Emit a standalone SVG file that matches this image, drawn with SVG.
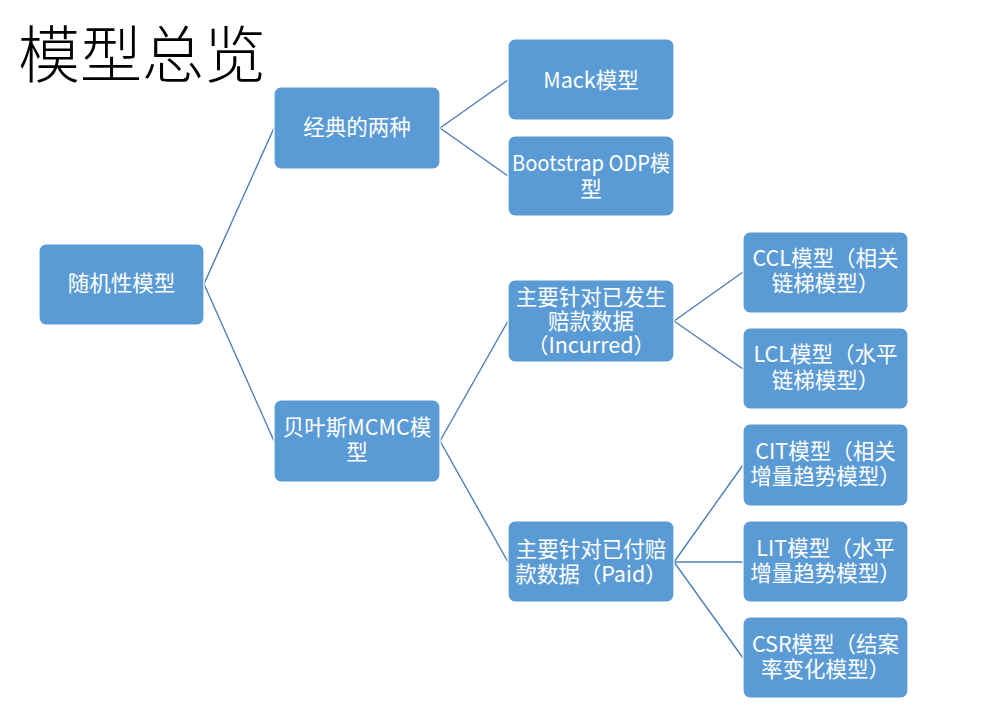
<svg xmlns="http://www.w3.org/2000/svg" width="989" height="706" viewBox="0 0 989 706">
<style>
.box{fill:#5B9BD5;stroke:#ffffff;stroke-width:1.2}
.lbl{fill:#ffffff;font-family:"Noto Sans CJK SC","Noto Sans",sans-serif;font-size:21.5px;text-anchor:middle;dominant-baseline:central}
.title{fill:#000000;font-family:"Liberation Serif","Noto Sans CJK SC",serif;font-size:62px;font-weight:300}
.conn line{stroke:#4A7EBB;stroke-width:1.4;fill:none}
</style>
<rect width="989" height="706" fill="#ffffff"/>
<text class="title" x="18" y="78">模型总览</text>
<g id="connectors" class="conn">
<line x1="204" y1="284" x2="274" y2="128"/>
<line x1="204" y1="284" x2="274" y2="441"/>
<line x1="440" y1="128" x2="508" y2="80"/>
<line x1="440" y1="128" x2="508" y2="176"/>
<line x1="440" y1="441" x2="508" y2="321"/>
<line x1="440" y1="441" x2="508" y2="562"/>
<line x1="674" y1="321" x2="743" y2="272"/>
<line x1="674" y1="321" x2="743" y2="369"/>
<line x1="674" y1="562" x2="743" y2="465"/>
<line x1="674" y1="562" x2="743" y2="562"/>
<line x1="674" y1="562" x2="743" y2="658"/>
</g>
<g id="n-root"><rect class="box" x="39" y="244" width="165" height="81" rx="7"/><text class="lbl" x="121.5" y="281">随机性模型</text></g>
<g id="n-classic"><rect class="box" x="274" y="87" width="166" height="82" rx="7"/><text class="lbl" x="357" y="125">经典的两种</text></g>
<g id="n-bayes"><rect class="box" x="274" y="400" width="166" height="82" rx="7"/><text class="lbl" x="357" y="425">贝叶斯MCMC模</text><text class="lbl" x="357" y="450">型</text></g>
<g id="n-mack"><rect class="box" x="508" y="39" width="166" height="81" rx="7"/><text class="lbl" x="591" y="78">Mack模型</text></g>
<g id="n-boot"><rect class="box" x="508" y="136" width="166" height="80" rx="7"/><text class="lbl" x="591" y="161" textLength="158" lengthAdjust="spacingAndGlyphs">Bootstrap ODP模</text><text class="lbl" x="591" y="187">型</text></g>
<g id="n-incurred"><rect class="box" x="508" y="280" width="166" height="82" rx="7"/><text class="lbl" x="591" y="295">主要针对已发生</text><text class="lbl" x="591" y="319">赔款数据</text><text class="lbl" x="591" y="343">（Incurred）</text></g>
<g id="n-paid"><rect class="box" x="508" y="521" width="166" height="81" rx="7"/><text class="lbl" x="591" y="547">主要针对已付赔</text><text class="lbl" x="591" y="572">款数据（Paid）</text></g>
<g id="n-ccl"><rect class="box" x="743" y="232" width="165" height="81" rx="7"/><text class="lbl" x="825.5" y="256">CCL模型（相关</text><text class="lbl" x="825.5" y="281">链梯模型）</text></g>
<g id="n-lcl"><rect class="box" x="743" y="328" width="165" height="81" rx="7"/><text class="lbl" x="825.5" y="352">LCL模型（水平</text><text class="lbl" x="825.5" y="378">链梯模型）</text></g>
<g id="n-cit"><rect class="box" x="743" y="424" width="165" height="82" rx="7"/><text class="lbl" x="825.5" y="449">CIT模型（相关</text><text class="lbl" x="825.5" y="474">增量趋势模型）</text></g>
<g id="n-lit"><rect class="box" x="743" y="521" width="165" height="81" rx="7"/><text class="lbl" x="825.5" y="546">LIT模型（水平</text><text class="lbl" x="825.5" y="571">增量趋势模型）</text></g>
<g id="n-csr"><rect class="box" x="743" y="617" width="165" height="81" rx="7"/><text class="lbl" x="825.5" y="642">CSR模型（结案</text><text class="lbl" x="825.5" y="667">率变化模型）</text></g>
</svg>
